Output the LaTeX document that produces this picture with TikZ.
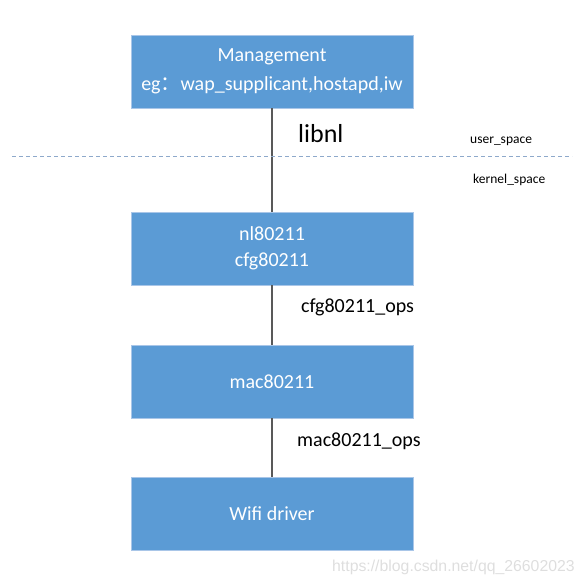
\documentclass[tikz,border=0pt]{standalone}
\usepackage{fontspec}
\setmainfont{Carlito}
\newfontfamily\wmfont{Liberation Sans}
\newfontfamily\cjk{Noto Sans CJK SC}
\usepackage{tikz}
\usetikzlibrary{positioning,calc}
\definecolor{boxblue}{HTML}{5B9BD5}
\definecolor{boxedge}{HTML}{A9C6E8}
\definecolor{linkgray}{HTML}{595959}
\definecolor{splitblue}{HTML}{8EA9CB}
\tikzset{
  layer/.style={draw=boxedge, line width=0.8pt, fill=boxblue, align=center, minimum width=282pt, minimum height=73pt, text=white, font=\fontsize{20}{26}\selectfont},
  link/.style={draw=linkgray, line width=2pt},
  lbl/.style={anchor=west, inner sep=0pt, font=\fontsize{20}{24}\selectfont},
  side/.style={anchor=west, inner sep=0pt, font=\fontsize{13.5}{16}\selectfont}
}
\begin{document}
\begin{tikzpicture}[x=1pt, y=-1pt]
  \useasboundingbox (0,0) rectangle (584,585);
  \node[layer, font=\fontsize{20}{28.5}\selectfont] (mgmt) at (272,71.5) {Management\\ eg{\cjk ：}wap\_supplicant,hostapd,iw};
  \node[layer] (nl) at (272,248.5) {nl80211\\ cfg80211};
  \node[layer] (mac) at (272,381.5) {mac80211};
  \node[layer] (drv) at (272,514) {Wifi driver};
  \draw[link] (mgmt.south) -- (nl.north);
  \draw[link] (nl.south) -- (mac.north);
  \draw[link] (mac.south) -- (drv.north);
  % user / kernel split
  \coordinate (splitL) at (12,156.5);
  \coordinate (splitR) at (572,156.5);
  \draw[splitblue, line width=1.3pt, dash pattern=on 4pt off 3pt] (splitL) -- (splitR);
  \node[lbl, font=\fontsize{26}{30}\selectfont] (libnl) at (298,134) {libnl};
  \node[side] (user) at (470,141) {user\_space};
  \node[side] (kern) at (473,180) {kernel\_space};
  \node[lbl] (cfgops) at (301,307) {cfg80211\_ops};
  \node[lbl] (macops) at (297,441) {mac80211\_ops};
  \node[anchor=west, inner sep=0pt, text=black!13, font=\wmfont\fontsize{15.8}{18}\selectfont] (mark) at (332,567) {https://blog.csdn.net/qq\_26602023};
\end{tikzpicture}
\end{document}
